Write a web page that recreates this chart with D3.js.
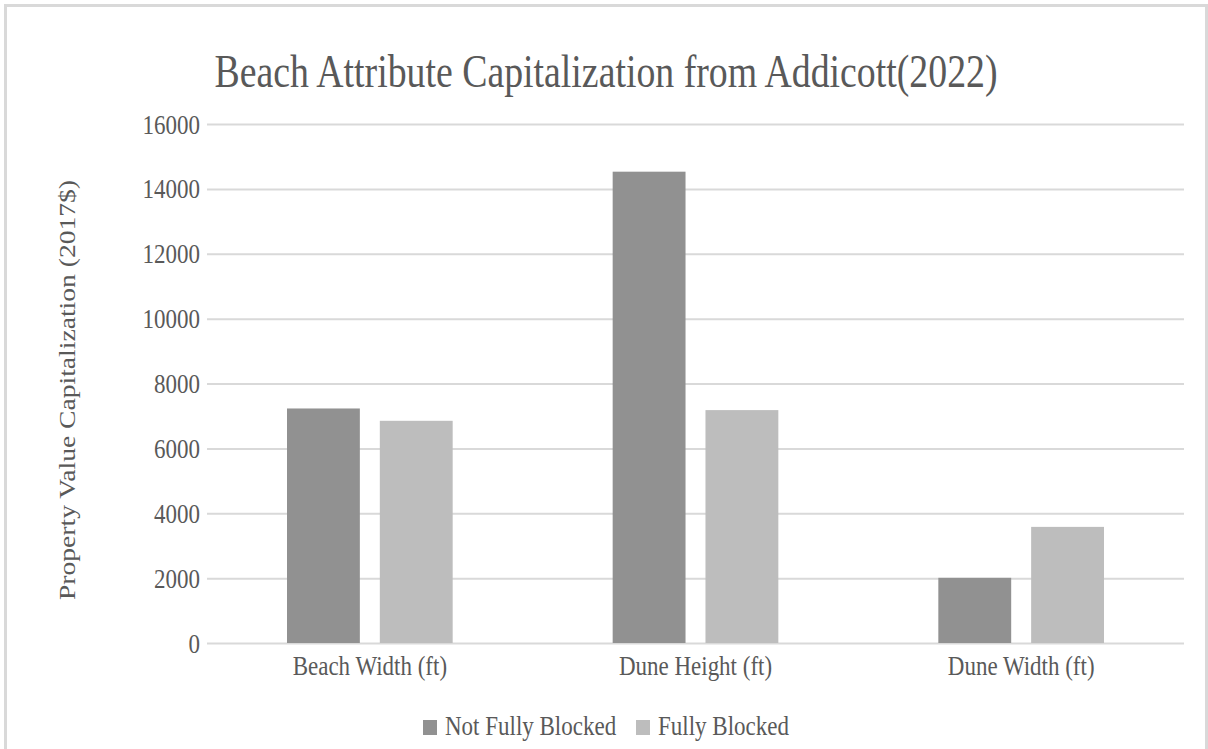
<!DOCTYPE html>
<html>
<head>
<meta charset="utf-8">
<script src="https://cdn.jsdelivr.net/npm/d3@7"></script>
<style>
  html, body { margin: 0; padding: 0; background: #fff; }
  svg { display: block; }
  text { font-family: "Liberation Serif", "Times New Roman", serif; fill: #595959; }
</style>
</head>
<body>
<svg id="chart" width="1208" height="749"></svg>
<script>
const titleText = "Beach Attribute Capitalization from Addicott(2022)";
const yAxisTitle = "Property Value Capitalization (2017$)";
const categories = ["Beach Width (ft)", "Dune Height (ft)", "Dune Width (ft)"];
const seriesNames = ["Not Fully Blocked", "Fully Blocked"];
const notFullyBlocked = [7230, 14530, 2010];
const fullyBlocked = [6850, 7180, 3580];
const yTicks = [0, 2000, 4000, 6000, 8000, 10000, 12000, 14000, 16000];
const seriesColors = ["#919191", "#bdbdbd"];

const seriesValues = [notFullyBlocked, fullyBlocked];
const stretchY = 1.2;
const fontFam = '"Liberation Serif", "Times New Roman", serif';

const svg = d3.select("#chart");

// outer border
svg.append("rect")
  .attr("x", 5.5).attr("y", 5.5)
  .attr("width", 1201).attr("height", 800)
  .attr("fill", "none")
  .attr("stroke", "#d9d9d9")
  .attr("stroke-width", 3);

const plotLeft = 207, plotRight = 1184, plotTop = 124, plotBottom = 643;

const x0 = d3.scaleBand().domain(categories).range([plotLeft, plotRight]).paddingInner(0).paddingOuter(0);
const x1 = d3.scaleBand().domain(seriesNames).range([80, x0.bandwidth() - 80]).paddingInner(20 / 93).paddingOuter(0);
const y = d3.scaleLinear().domain([0, 16000]).range([plotBottom, plotTop]);

// y axis with gridlines
const yAxis = d3.axisLeft(y).tickValues(yTicks).tickSize(-(plotRight - plotLeft)).tickPadding(7).tickFormat(d3.format("d"));
const gy = svg.append("g").attr("transform", `translate(${plotLeft},0)`).call(yAxis);
gy.select(".domain").remove();
gy.selectAll(".tick line").attr("stroke", "#d9d9d9").attr("stroke-width", 2);
gy.selectAll(".tick text")
  .attr("x", 0)
  .attr("dy", "0.33em")
  .attr("transform", `translate(-7,0) scale(1,${stretchY})`)
  .attr("fill", "#595959")
  .style("font-family", fontFam)
  .style("font-size", "23px");

// bars
const groups = svg.append("g").selectAll("g")
  .data(categories)
  .join("g")
  .attr("transform", d => `translate(${x0(d)},0)`);

groups.selectAll("rect")
  .data((c, ci) => seriesNames.map((s, si) => ({ s, si, v: seriesValues[si][ci] })))
  .join("rect")
  .attr("x", d => x1(d.s))
  .attr("width", x1.bandwidth())
  .attr("y", d => y(d.v))
  .attr("height", d => plotBottom - y(d.v))
  .attr("fill", d => seriesColors[d.si]);

// x axis labels
const xAxis = d3.axisBottom(x0).tickSize(0).tickPadding(0);
const gx = svg.append("g").attr("transform", `translate(0,${plotBottom})`).call(xAxis);
gx.select(".domain").remove();
gx.selectAll(".tick text")
  .attr("y", 0)
  .attr("dy", null)
  .attr("transform", `translate(0,32) scale(1,${stretchY})`)
  .attr("fill", "#595959")
  .style("font-family", fontFam)
  .style("font-size", "23px");

// title
svg.append("text")
  .attr("transform", `translate(606,87) scale(1,${stretchY})`)
  .attr("text-anchor", "middle")
  .style("font-size", "37.8px")
  .text(titleText);

// y axis title
svg.append("text")
  .attr("transform", `translate(75,390) scale(1,${stretchY}) rotate(-90)`)
  .attr("text-anchor", "middle")
  .style("font-size", "23px")
  .text(yAxisTitle);

// legend
const legendItems = [
  { name: seriesNames[0], color: seriesColors[0], x: 423 },
  { name: seriesNames[1], color: seriesColors[1], x: 636 }
];
const lg = svg.append("g");
legendItems.forEach(it => {
  lg.append("rect").attr("x", it.x).attr("y", 720).attr("width", 14).attr("height", 15).attr("fill", it.color);
  lg.append("text")
    .attr("transform", `translate(${it.x + 22},735) scale(1,${stretchY})`)
    .style("font-size", "23px")
    .text(it.name);
});
</script>
</body>
</html>
